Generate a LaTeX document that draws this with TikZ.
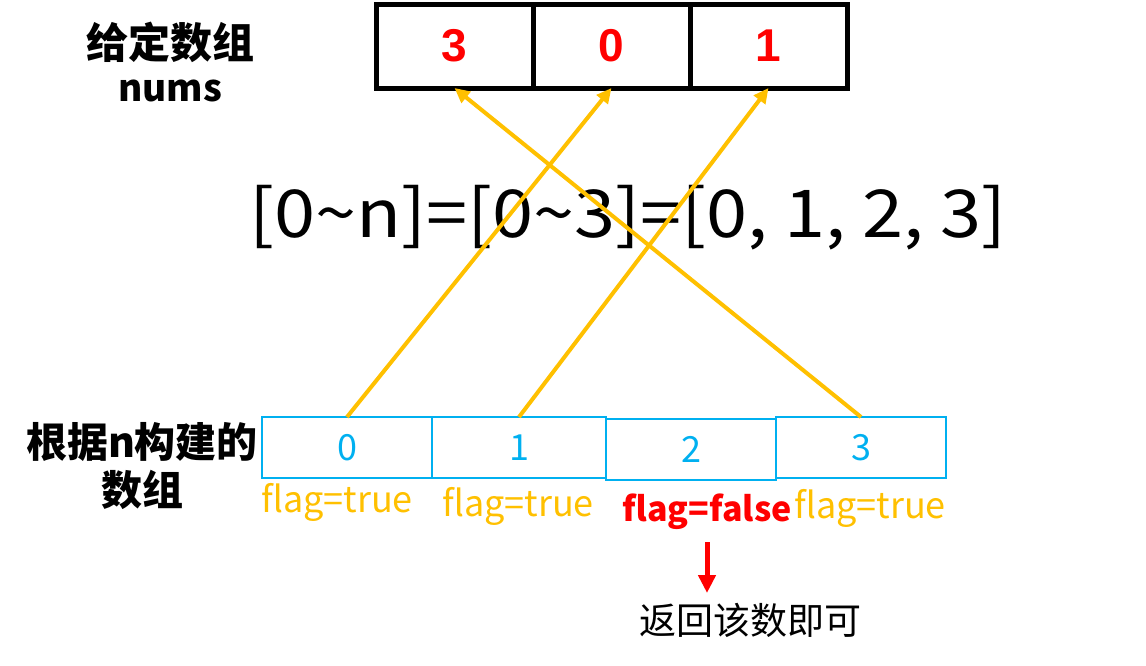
\documentclass[tikz,border=0pt]{standalone}
\usepackage{fontspec}
\setmainfont{Noto Sans CJK SC}
\newfontfamily\arialfont{Liberation Sans}
\usetikzlibrary{arrows.meta}

\definecolor{gold}{HTML}{FFC000}
\definecolor{skyblue}{HTML}{00B0F0}
\definecolor{pptred}{HTML}{FF0000}

\tikzset{
  numcell/.style={draw, line width=5pt, minimum width=157pt, minimum height=84pt,
    inner sep=0pt, outer sep=0pt, text=pptred,
    font=\arialfont\bfseries\fontsize{46}{46}\selectfont},
  idxcell/.style={draw=skyblue, line width=1.6pt, minimum height=61pt,
    inner sep=0pt, outer sep=0pt, text=skyblue, font=\fontsize{36}{36}\selectfont},
  flagtrue/.style={text=gold, font=\fontsize{36}{36}\selectfont},
  flagfalse/.style={text=pptred, font=\bfseries\fontsize{34}{34}\selectfont},
  mapto/.style={->, gold, line width=4pt},
  sidelabel/.style={align=center, font=\bfseries\fontsize{41}{48}\selectfont}
}

\begin{document}
\begin{tikzpicture}[x=1pt, y=-1pt, >={Triangle[length=15pt, width=14pt]}]

  \useasboundingbox (0,0) rectangle (1146,665);

  % Given array
  \node[numcell] (num3) at (454.5,46) {3};
  \node[numcell] (num0) at (611.5,46) {0};
  \node[numcell] (num1) at (768.5,46) {1};
  \node[sidelabel, font=\bfseries\fontsize{42}{42}\selectfont] (given) at (170,42) {给定数组};
  \node[sidelabel, font=\bfseries\fontsize{37}{37}\selectfont] (nums) at (170,91) {nums};

  % Range
  \node[font=\fontsize{66}{66}\selectfont] (range) at (628,218)
    {\scalebox{1.12}[1]{[0\textasciitilde n]=[0\textasciitilde 3]=[0, 1, 2, 3]}};

  % Array built from n
  \foreach \i/\xc/\yc/\w in {0/347/447.5/170, 1/519/447.5/174, 2/691/449.5/170, 3/861/447.5/170} {
    \node[idxcell, minimum width=\w pt] (idx\i) at (\xc,\yc) {\i};
  }
  \node[sidelabel] (built) at (142,466) {根据n构建的\\数组};

  % Flags
  \node[flagtrue] (flag0) at (337,502) {flag=true};
  \node[flagtrue] (flag1) at (518,506) {flag=true};
  \node[flagfalse] (flag2) at (707,512) {flag=false};
  \node[flagtrue] (flag3) at (870,508) {flag=true};

  % Mapping arrows
  \draw[mapto] (idx0.north) -- (num0.south);
  \draw[mapto] (idx1.north) -- (num1.south);
  \draw[mapto] (idx3.north) -- (num3.south);

  % Result
  \node[font=\fontsize{37}{37}\selectfont] (result) at (750,620) {返回该数即可};
  \coordinate (down) at (707,542);
  \coordinate (downtip) at (707,593);
  \draw[->, pptred, line width=5pt, >={Triangle[length=18pt, width=17pt]}] (down) -- (downtip);

\end{tikzpicture}
\end{document}
